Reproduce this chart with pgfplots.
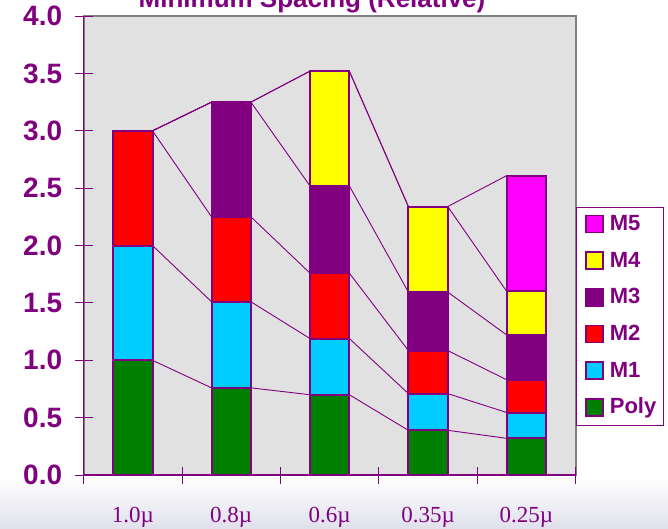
\documentclass[border=0pt]{standalone}
\usepackage{pgfplots}
\pgfplotsset{compat=1.18}
\usepackage{fontspec}
\setmainfont{Liberation Sans}
\newfontfamily\seriffont{Liberation Serif}
\definecolor{pp}{RGB}{128,0,128}
\definecolor{bgg}{RGB}{225,225,225}
\definecolor{cPoly}{RGB}{0,128,0}
\definecolor{cMone}{RGB}{0,204,255}
\definecolor{cMtwo}{RGB}{255,0,0}
\definecolor{cMthree}{RGB}{128,0,128}
\definecolor{cMfour}{RGB}{255,255,0}
\definecolor{cMfive}{RGB}{255,0,255}
\pgfplotsset{
  mybar/.style={fill=#1, draw=pp, line width=2pt,
    legend image code/.code={\path (0pt,0pt); \draw[fill=#1,draw=pp,line width=1.6pt] (3pt,-8pt) rectangle (20pt,9pt);}},
  sline/.style={draw=pp, line width=0.9pt, mark=none}
}
\begin{document}
\begin{tikzpicture}[x=1pt,y=1pt]
\begin{scope}
\clip (0,0) rectangle (668,529);
\fill[white] (0,0) rectangle (668,529);
\shade[top color=white, bottom color={rgb,255:red,224;green,224;blue,236}] (0,0) rectangle (668,52);
\node[anchor=base, text=pp, font=\fontsize{26}{30}\selectfont\bfseries] at (312,521) {Minimum Spacing (Relative)};
\end{scope}

% background, frame and series lines
\begin{axis}[at={(85,47)}, anchor=south west, scale only axis,
  width=492pt, height=459pt, xmin=-0.5, xmax=4.5, ymin=0, ymax=4,
  axis background/.style={fill=bgg},
  axis line style={draw=gray, line width=2pt},
  xtick=\empty, ytick=\empty, clip=false]
\addplot[sline] coordinates {(0.2,1.0) (0.8,0.76) (1.2,0.76) (1.8,0.70) (2.2,0.70) (2.8,0.39) (3.2,0.39) (3.8,0.32)};
\addplot[sline] coordinates {(0.2,2.0) (0.8,1.51) (1.2,1.51) (1.8,1.19) (2.2,1.19) (2.8,0.71) (3.2,0.71) (3.8,0.545)};
\addplot[sline] coordinates {(0.2,3.0) (0.8,2.25) (1.2,2.25) (1.8,1.76) (2.2,1.76) (2.8,1.085) (3.2,1.085) (3.8,0.83)};
\addplot[sline] coordinates {(0.2,3.0) (0.8,3.25) (1.2,3.25) (1.8,2.52) (2.2,2.52) (2.8,1.595) (3.2,1.595) (3.8,1.22)};
\addplot[sline] coordinates {(0.2,3.0) (0.8,3.25) (1.2,3.25) (1.8,3.52) (2.2,3.52) (2.8,2.34) (3.2,2.34) (3.8,1.60)};
\addplot[sline] coordinates {(0.2,3.0) (0.8,3.25) (1.2,3.25) (1.8,3.52) (2.2,3.52) (2.8,2.34) (3.2,2.34) (3.8,2.61)};
\end{axis}

% bars, axes, ticks, legend
\begin{axis}[at={(85,47)}, anchor=south west, scale only axis,
  width=492pt, height=459pt, xmin=-0.5, xmax=4.5, ymin=0, ymax=4,
  ybar stacked, bar width=0.4,
  axis lines=left, axis line style={draw=pp, line width=1.3pt, -},
  tick align=center, major tick length=18pt, minor tick length=17pt,
  xtick={0,1,2,3,4},
  xticklabels={1.0\textmu, 0.8\textmu, 0.6\textmu, 0.35\textmu, 0.25\textmu},
  minor xtick={-0.5,0.5,1.5,2.5,3.5,4.5},
  major x tick style={draw=none},
  minor x tick style={draw=pp, line width=1pt},
  xticklabel style={font=\seriffont\fontsize{23}{25}\selectfont, text=pp, yshift=-20pt},
  ytick={0,0.5,...,4},
  ytick style={draw=pp, line width=1pt},
  yticklabel style={font=\fontsize{28}{30}\selectfont\bfseries, text=pp, xshift=-9pt,
    /pgf/number format/.cd, fixed, fixed zerofill, precision=1, assume math mode=true},
  reverse legend, legend cell align=left,
  legend style={at={(1,0.584)}, anchor=north west, draw=pp, line width=0.8pt,
    fill=white, text=pp, font=\fontsize{22}{24}\selectfont\bfseries,
    row sep=14.7pt, column sep=5pt, inner xsep=6pt, inner ysep=6pt,
    nodes={inner sep=1pt, text height=16pt, text depth=4pt}},
  clip=false]
\addplot[mybar=cPoly] coordinates {(0,1.0) (1,0.76) (2,0.70) (3,0.39) (4,0.32)};
\addplot[mybar=cMone] coordinates {(0,1.0) (1,0.75) (2,0.49) (3,0.32) (4,0.225)};
\addplot[mybar=cMtwo] coordinates {(0,1.0) (1,0.74) (2,0.57) (3,0.375) (4,0.285)};
\addplot[mybar=cMthree] coordinates {(0,0) (1,1.0) (2,0.76) (3,0.51) (4,0.39)};
\addplot[mybar=cMfour] coordinates {(0,0) (1,0) (2,1.0) (3,0.745) (4,0.38)};
\addplot[mybar=cMfive] coordinates {(0,0) (1,0) (2,0) (3,0) (4,1.01)};
\legend{Poly, M1, M2, M3, M4, M5}
\end{axis}
\pgfresetboundingbox
\useasboundingbox (0,0) rectangle (668,529);
\end{tikzpicture}
\end{document}
